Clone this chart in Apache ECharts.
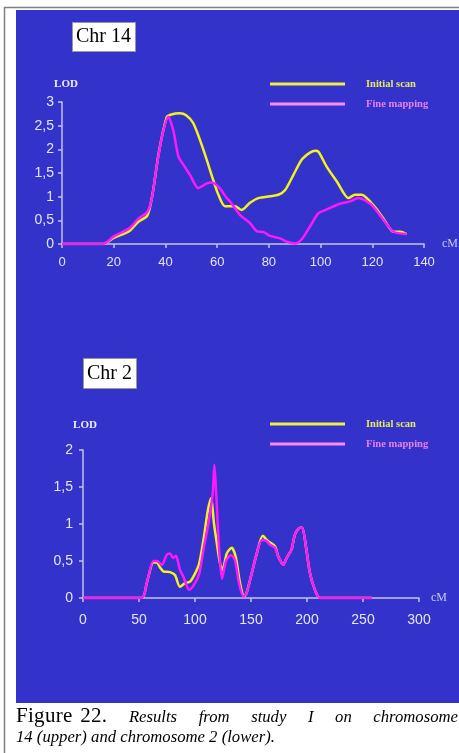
<!DOCTYPE html>
<html>
<head>
<meta charset="utf-8">
<script src="https://cdn.jsdelivr.net/npm/echarts@6/dist/echarts.min.js"></script>
<style>
html,body{margin:0;padding:0;background:#fff;}
#chart{position:absolute;left:0;top:0;width:459px;height:753px;}
#cap{position:absolute;left:16px;top:705px;width:442px;font-family:"Liberation Serif","Times New Roman",serif;color:#000;line-height:20px;}
#cap .l1{text-align:justify;text-align-last:justify;font-size:16.7px;font-style:italic;white-space:nowrap;}
#cap .l1 .fig{font-style:normal;font-size:21px;display:inline-block;letter-spacing:0.3px;word-spacing:2px;}
#cap .l2{font-size:16.7px;font-style:italic;}
</style>
</head>
<body>
<div id="chart"></div>
<div id="cap"><div class="l1" style="white-space:normal"><span class="fig">Figure 22.</span> Results from study I on chromosome</div><div class="l2">14 (upper) and chromosome 2 (lower).</div></div>
<script>
// ---- Data ----
const seriesNames = ['Initial scan', 'Fine mapping'];

const chr14Initial = [[0,0],[16,0],[20,0.13],[26,0.27],[29.5,0.47],[33,0.6],[35,1.05],[37.5,1.95],[40.5,2.68],[42,2.73],[45.5,2.76],[48,2.72],[50.8,2.55],[54.7,1.99],[58.5,1.35],[60.5,1.04],[63,0.8],[66.9,0.8],[69.5,0.72],[72.7,0.87],[75.9,0.97],[80.5,1.01],[83.7,1.04],[86.3,1.14],[89.5,1.46],[92.7,1.78],[95.9,1.93],[97.9,1.97],[99.2,1.95],[102.4,1.63],[106.3,1.32],[110.8,0.97],[113.3,1.04],[115.9,1.04],[120.4,0.82],[124.3,0.54],[128.2,0.26],[130.8,0.26],[133.3,0.21]];

const chr14Fine = [[0,0],[16,0],[20,0.16],[26,0.33],[29.5,0.53],[33,0.68],[34.7,0.95],[36.5,1.6],[38.8,2.3],[41.1,2.69],[43,2.41],[45,1.85],[47,1.67],[49.5,1.46],[52.7,1.18],[56,1.28],[58,1.3],[61,1.18],[63.7,0.97],[65,0.9],[68.9,0.61],[72.7,0.44],[75.3,0.27],[78,0.25],[80.5,0.17],[84.3,0.12],[86.9,0.05],[90.1,0.01],[92.7,0.1],[95.9,0.37],[99.2,0.65],[102.4,0.73],[107.5,0.85],[111.4,0.9],[114.6,0.97],[117.9,0.9],[120.4,0.79],[124.3,0.51],[128.2,0.26],[133.3,0.21]];

const chr2Initial = [[0,0],[52.4,0],[56.9,0.2],[62.8,0.48],[65.8,0.48],[68.5,0.42],[71.7,0.36],[77.7,0.35],[82.1,0.31],[86.6,0.15],[91,0.2],[95.5,0.22],[100,0.33],[103.8,0.47],[108,0.83],[111.3,1.17],[114.3,1.35],[117,1.0],[119.3,0.76],[122.3,0.47],[124.7,0.38],[128.3,0.6],[132.7,0.68],[136.3,0.56],[140.2,0.2],[143.8,0.02],[146.1,0.07],[150.6,0.33],[155.1,0.6],[160.5,0.84],[165,0.77],[171.4,0.7],[174.4,0.56],[178.8,0.45],[181.8,0.54],[186.3,0.66],[189.3,0.86],[193.8,0.95],[195.8,0.95],[199.1,0.69],[202.7,0.33],[207.1,0.11],[211.6,0],[258,0]];

const chr2Fine = [[0,0],[52.4,0],[56.9,0.2],[62.8,0.5],[65.8,0.5],[70.3,0.45],[74.7,0.58],[77.7,0.6],[80.6,0.54],[83,0.57],[86.6,0.38],[89.6,0.29],[94.9,0.11],[100,0.2],[103.8,0.33],[108,0.69],[111.9,1.0],[115.8,1.41],[117.3,1.8],[118.8,1.45],[121.4,0.69],[124.1,0.26],[127.7,0.5],[132.1,0.58],[135.7,0.51],[139.3,0.2],[143.2,0.02],[146.1,0.07],[150.6,0.33],[155.1,0.6],[159.5,0.78],[162.5,0.78],[167,0.72],[171.4,0.68],[174.4,0.56],[178.8,0.45],[181.8,0.54],[186.3,0.66],[189.3,0.86],[193.8,0.95],[195.8,0.95],[199.1,0.69],[202.7,0.33],[207.1,0.11],[211.6,0],[258,0]];

const chr14YTicks = ['0','0,5','1','1,5','2','2,5','3'];
const chr2YTicks = ['0','0,5','1','1,5','2'];
const chr14XTicks = ['0','20','40','60','80','100','120','140'];
const chr2XTicks = ['0','50','100','150','200','250','300'];

// ---- Styles ----
const BLUE = '#3333cc';
const AX = '#c4c4e6';
const LBL = '#e4e4f4';
const YEL = '#f2f21e';
const PNK = '#ff18ff';

function xAxis(grid, max, interval, ticks, fs, margin, nameGapV, gap) {
  return {
    type: 'value', gridIndex: grid, min: 0, max: max, interval: interval,
    name: 'cM', nameLocation: 'end', nameGap: gap,
    nameTextStyle: {color: '#c8c8ee', fontFamily: 'Liberation Serif', fontSize: 12, padding: [0,0,nameGapV,0]},
    axisLine: {show: true, lineStyle: {color: AX, width: 1.5}},
    axisTick: {show: true, length: 4, lineStyle: {color: AX, width: 1.5}},
    splitLine: {show: false},
    axisLabel: {color: LBL, fontSize: fs, fontFamily: 'Liberation Sans', margin: margin,
      formatter: v => ticks[Math.round(v / interval)]}
  };
}
function yAxis(grid, max, ticks, fs, margin, gap, padL) {
  return {
    type: 'value', gridIndex: grid, min: 0, max: max, interval: 0.5,
    name: 'LOD', nameLocation: 'end', nameGap: gap,
    nameTextStyle: {color: '#eeeeff', fontFamily: 'Liberation Serif', fontWeight: 'bold', fontSize: 11, padding: [0,0,0,padL]},
    axisLine: {show: true, lineStyle: {color: AX, width: 1.5}},
    axisTick: {show: true, length: 4, lineStyle: {color: AX, width: 1.5}},
    splitLine: {show: false},
    axisLabel: {color: LBL, fontSize: fs, fontFamily: 'Liberation Sans', margin: margin,
      formatter: v => ticks[Math.round(v / 0.5)]}
  };
}
function line(name, data, xi, color) {
  return {type: 'line', name: name, xAxisIndex: xi, yAxisIndex: xi, data: data,
    showSymbol: false, smooth: 0.25, lineStyle: {color: color, width: 2.5}, itemStyle: {color: color}, z: name === 'Fine mapping' ? 3 : 2};
}
function legend(top) {
  return {
    left: 270, top: top, padding: 0, orient: 'vertical', itemWidth: 75, itemHeight: 3, itemGap: 6, icon: 'rect',
    selectedMode: false,
    textStyle: {fontFamily: 'Liberation Serif', fontWeight: 'bold', fontSize: 10.5, lineHeight: 14, padding: [0,0,0,16]},
    data: [
      {name: 'Initial scan', itemStyle: {color: '#f0f040'}, textStyle: {color: '#e8e860'}},
      {name: 'Fine mapping', itemStyle: {color: '#ff88ff'}, textStyle: {color: '#e880e8'}}
    ]
  };
}

const chart = echarts.init(document.getElementById('chart'));
chart.setOption({
  backgroundColor: '#ffffff',
  animation: false,
  graphic: [
    {type: 'line', shape: {x1: 4, y1: 7.5, x2: 459, y2: 7.5}, style: {stroke: '#808080', lineWidth: 1.5}, z: -10},
    {type: 'line', shape: {x1: 4.5, y1: 7, x2: 4.5, y2: 753}, style: {stroke: '#808080', lineWidth: 1.5}, z: -10},
    {type: 'rect', shape: {x: 16, y: 10, width: 443, height: 693}, style: {fill: BLUE}, z: -10}
  ],
  title: [
    {text: 'Chr 14', left: 72, top: 22, padding: [4, 5, 4, 4], backgroundColor: '#fff', borderColor: '#999', borderWidth: 1,
      textStyle: {fontFamily: 'Liberation Serif', fontWeight: 'normal', fontSize: 20, lineHeight: 22, color: '#000'}},
    {text: 'Chr 2', left: 83, top: 358, padding: [4, 5, 4, 4], backgroundColor: '#fff', borderColor: '#999', borderWidth: 1,
      textStyle: {fontFamily: 'Liberation Serif', fontWeight: 'normal', fontSize: 20, lineHeight: 23, color: '#000'}}
  ],
  legend: [legend(77), legend(417)],
  grid: [
    {left: 62, right: 35, top: 102, bottom: 509, containLabel: false},
    {left: 83, right: 40, top: 450, bottom: 155, containLabel: false}
  ],
  xAxis: [
    xAxis(0, 140, 20, chr14XTicks, 13, 12, 6, 18),
    xAxis(1, 300, 50, chr2XTicks, 14, 15, 18, 12)
  ],
  yAxis: [
    yAxis(0, 3, chr14YTicks, 14, 8, 12, 8),
    yAxis(1, 2, chr2YTicks, 14, 10, 19, 4)
  ],
  series: [
    line(seriesNames[0], chr14Initial, 0, YEL),
    line(seriesNames[1], chr14Fine, 0, PNK),
    line(seriesNames[0], chr2Initial, 1, YEL),
    line(seriesNames[1], chr2Fine, 1, PNK)
  ]
});
</script>
</body>
</html>
